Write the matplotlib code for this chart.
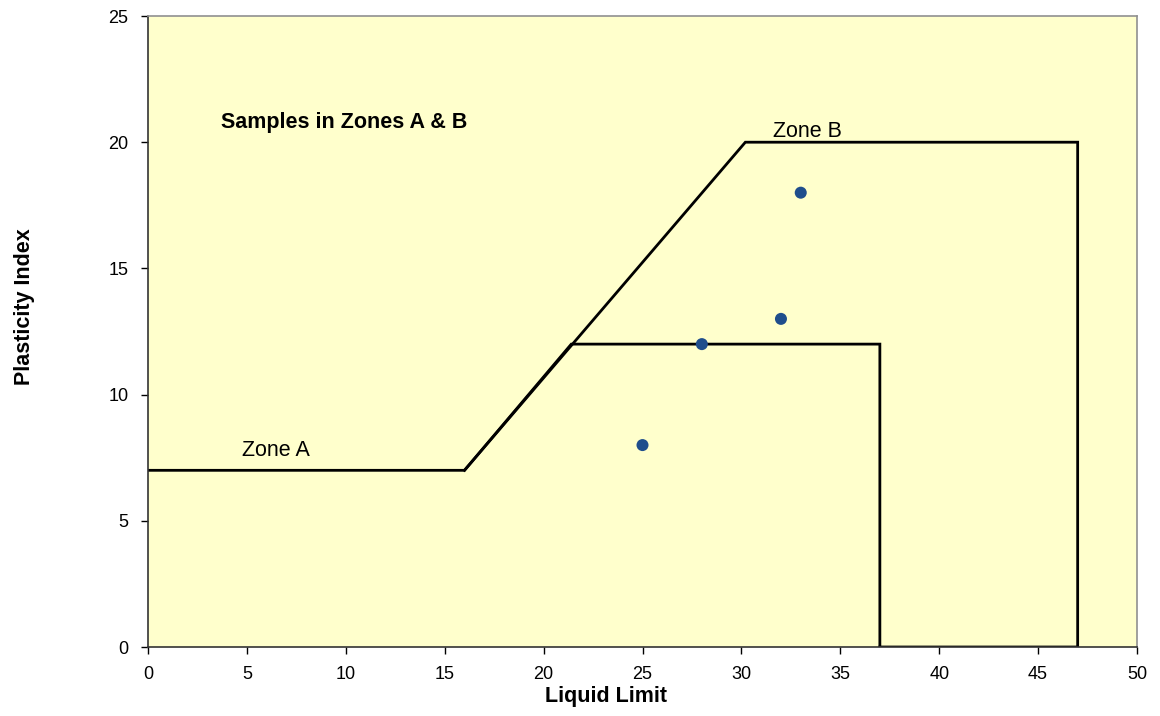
import matplotlib
matplotlib.use("Agg")
import matplotlib.pyplot as plt

plt.rcParams['font.family'] = ['Liberation Sans', 'DejaVu Sans']

# Boundary lines
zone_a_x = [0, 16, 21.4, 37, 37]
zone_a_y = [7, 7, 12, 12, 0]
zone_b_x = [16, 30.2, 47, 47, 37]
zone_b_y = [7, 20, 20, 0, 0]

# Samples
sample_ll = [25, 28, 32, 33]
sample_pi = [8, 12, 13, 18]

xticks = [0, 5, 10, 15, 20, 25, 30, 35, 40, 45, 50]
yticks = [0, 5, 10, 15, 20, 25]

fig = plt.figure(figsize=(11.6, 7.16), dpi=100)
ax = fig.add_axes([148/1160, 1 - 647/716, (1137-148)/1160, (647-16)/716])
ax.set_facecolor('#FFFFCC')

ax.plot(zone_a_x, zone_a_y, color='black', lw=2, solid_joinstyle='miter')
ax.plot(zone_b_x, zone_b_y, color='black', lw=2, solid_joinstyle='miter')
ax.scatter(sample_ll, sample_pi, s=75, color='#1F4E8C', zorder=5, edgecolors='none')

ax.text(3.7, 20.8, 'Samples in Zones A & B', fontsize=15.5, fontweight='bold', va='center', ha='left')
ax.text(4.75, 7.8, 'Zone A', fontsize=15.5, va='center', ha='left')
ax.text(31.6, 20.42, 'Zone B', fontsize=15.5, va='center', ha='left')

ax.set_xlim(0, 50)
ax.set_ylim(0, 25)
ax.set_xticks(xticks)
ax.set_yticks(yticks)
ax.tick_params(axis='x', direction='out', length=5, labelsize=13, width=1, pad=8.5)
ax.tick_params(axis='y', direction='out', length=5, labelsize=13, width=1, pad=9)
ax.set_xlabel('Liquid Limit', fontsize=15.5, fontweight='bold')
ax.set_ylabel('Plasticity Index', fontsize=15.5, fontweight='bold')
ax.xaxis.set_label_coords(0.463, -0.079)
ax.yaxis.set_label_coords(-0.125, 0.539)
ax.xaxis.label.set_va('center')
ax.yaxis.label.set_va('center')

for s in ['left', 'bottom']:
    ax.spines[s].set_color('#333333')
    ax.spines[s].set_linewidth(1.2)
for s in ['top', 'right']:
    ax.spines[s].set_color('#909090')
    ax.spines[s].set_linewidth(1.2)

fig.savefig('out.png', dpi=100, facecolor='white')
